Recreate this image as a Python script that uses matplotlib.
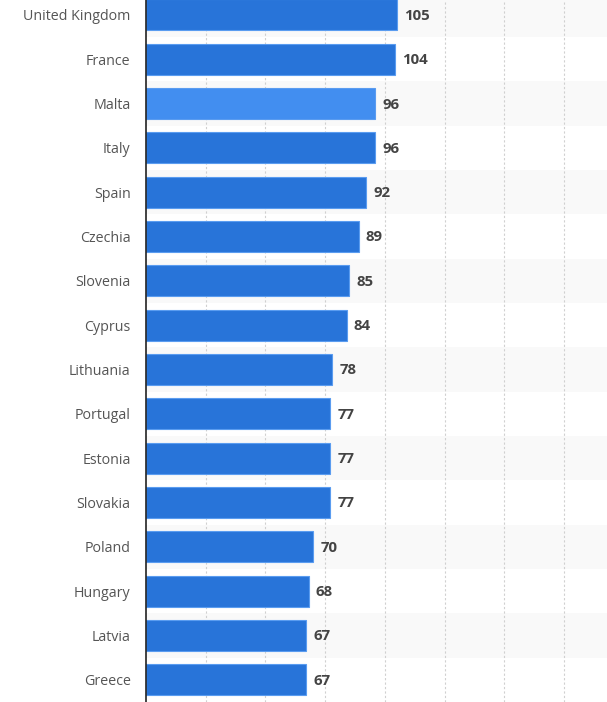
import matplotlib
matplotlib.use("Agg")
import matplotlib.pyplot as plt

plt.rcParams["font.family"] = ["Open Sans", "DejaVu Sans"]

countries = ["United Kingdom", "France", "Malta", "Italy", "Spain", "Czechia", "Slovenia",
             "Cyprus", "Lithuania", "Portugal", "Estonia", "Slovakia", "Poland", "Hungary",
             "Latvia", "Greece"]
values = [105, 104, 96, 96, 92, 89, 85, 84, 78, 77, 77, 77, 70, 68, 67, 67]
highlight = "Malta"

fig = plt.figure(figsize=(6.07, 7.02), dpi=100)
ax = fig.add_axes([146/607, 0, 1 - 146/607, 1])

n = len(countries)
for i in range(n):
    if i % 2 == 0:
        ax.axhspan(i - 0.5, i + 0.5, color="#f9f9f9", zorder=0, lw=0)

colors = ["#428ef0" if c == highlight else "#2874d9" for c in countries]
bars = ax.barh(range(n), values, height=0.7, color=colors, edgecolor="#5a9cf0",
               linewidth=0.8, zorder=3)
for i, v in enumerate(values):
    ax.text(v + 3, i + 0.02, str(v), va="center", ha="left", fontsize=10.8, fontweight="bold",
            color="#444444", zorder=4)

ax.set_xlim(0, 192.9)
ax.set_ylim(n - 0.5, -0.338)
ax.set_xticks([25, 50, 75, 100, 125, 150, 175])
ax.xaxis.grid(True, linestyle=(0, (2, 2)), color="#d0d0d0", linewidth=0.8, zorder=1)
ax.set_axisbelow(True)
ax.tick_params(axis="x", length=0, labelbottom=False)
ax.set_yticks(range(n))
ax.set_yticklabels(countries, fontsize=10.3, color="#555555")
ax.tick_params(axis="y", length=0, pad=11)
for s in ["top", "right", "bottom"]:
    ax.spines[s].set_visible(False)
ax.spines["left"].set_color("#222222")
ax.spines["left"].set_linewidth(1.2)
ax.spines["left"].set_zorder(5)

fig.savefig("out.png", dpi=100)
